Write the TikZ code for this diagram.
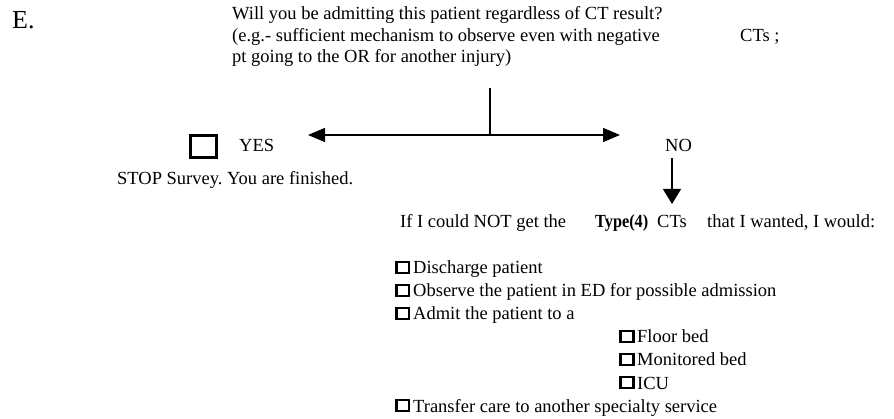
\documentclass[tikz,border=0pt]{standalone}
\usepackage{fontspec}
\setmainfont{Liberation Serif}
\frenchspacing
\usetikzlibrary{arrows.meta}
\tikzset{
  txt/.style={anchor=base west,inner sep=0pt,font=\fontsize{18.5}{21.3}\selectfont},
  cbox/.style={draw,line width=2.6pt,minimum width=12.6pt,minimum height=10.8pt,inner sep=0pt,anchor=center},
  bigbox/.style={draw,line width=3pt,minimum width=26pt,minimum height=22pt,inner sep=0pt,anchor=center},
  hconn/.style={line width=1.4pt,{Triangle[length=17pt,width=14pt]}-{Triangle[length=17pt,width=14pt]}},
  plain/.style={line width=1.4pt},
  dconn/.style={line width=1.4pt,-{Triangle[length=15pt,width=18pt]}}
}
\begin{document}
\begin{tikzpicture}[x=1pt,y=-1pt]
\useasboundingbox (0,0) rectangle (894,419);
% heading letter
\node[anchor=base west,inner sep=0pt,font=\fontsize{26}{30}\selectfont] (E) at (12,29) {E.};
% question
\node[txt] (q1) at (232,20) {Will you be admitting this patient regardless of CT result?};
\node[txt] (q2) at (232,41.5) {(e.g.- sufficient mechanism to observe even with negative};
\node[txt] (q2b) at (740,41.5) {CTs ;};
\node[txt] (q3) at (232,63) {pt going to the OR for another injury)};
% connectors
\coordinate (top) at (490,88);
\coordinate (junc) at (490,135);
\coordinate (lt) at (308,135);
\coordinate (rt) at (620,135);
\draw[plain] (top) -- (junc);
\draw[hconn] (lt) -- (rt);
% YES branch
\node[bigbox] (ybox) at (203.5,146.5) {};
\node[txt] (yes) at (239,152) {YES};
\node[txt] (stop) at (117,185) {STOP Survey. You are finished.};
% NO branch
\node[txt] (no) at (665,152) {NO};
\coordinate (dtop) at (672,158);
\coordinate (dtip) at (672,204);
\draw[dconn] (dtop) -- (dtip);
\node[txt] (if1) at (400,228) {If I could NOT get the};
\node[txt,font=\fontsize{18.5}{21.3}\selectfont\bfseries] (type) at (595,228) {\scalebox{0.88}[1]{Type(4)}};
\node[txt] (if2) at (657,228) {CTs};
\node[txt] (if3) at (707,228) {that I wanted, I would:};
% options
\node[cbox] (b1) at (402.5,267.5) {};
\node[txt] (o1) at (413,274) {Discharge patient};
\node[cbox] (b2) at (402.5,290.5) {};
\node[txt] (o2) at (413,297) {Observe the patient in ED for possible admission};
\node[cbox] (b3) at (402.5,313.5) {};
\node[txt] (o3) at (413,320) {Admit the patient to a};
\node[cbox] (b4) at (627,336.5) {};
\node[txt] (o4) at (637,343) {Floor bed};
\node[cbox] (b5) at (627,359.5) {};
\node[txt] (o5) at (637,366) {Monitored bed};
\node[cbox] (b6) at (627,382.5) {};
\node[txt] (o6) at (637,389) {ICU};
\node[cbox] (b7) at (402.5,405.5) {};
\node[txt] (o7) at (413,412) {Transfer care to another specialty service};
\end{tikzpicture}
\end{document}
